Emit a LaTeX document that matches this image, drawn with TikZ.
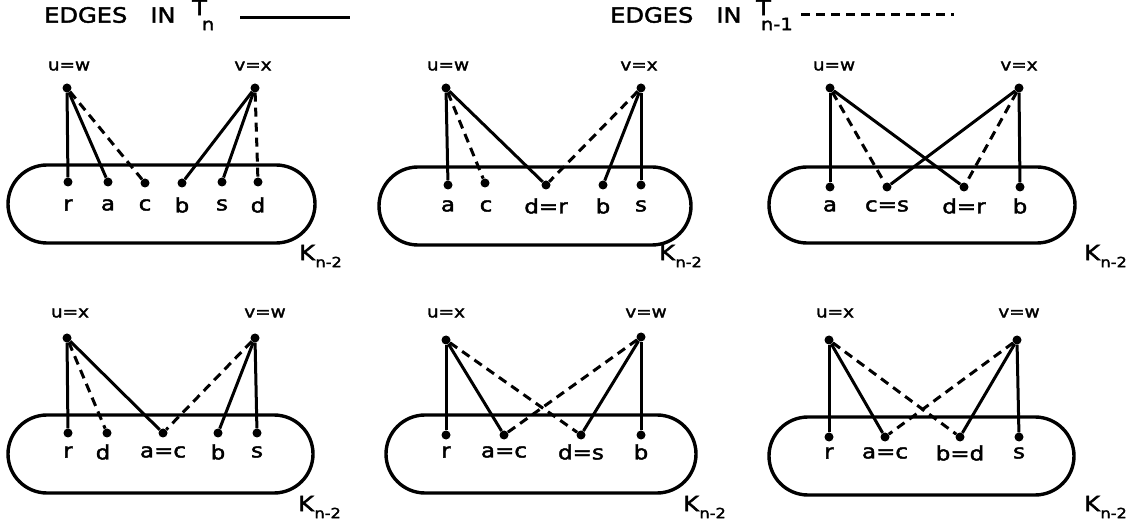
\documentclass[tikz,border=0pt]{standalone}
\usepackage{fontspec}
\usetikzlibrary{shapes.misc}
\newfontfamily\hand[FakeStretch=1.15,FakeBold=2]{DejaVu Sans}
\tikzset{
  dot/.style={circle, fill, inner sep=0pt, minimum size=9pt},
  tn/.style={line width=3pt},
  tm/.style={line width=3pt, dash pattern=on 9pt off 6pt},
  oval/.style={draw, line width=3.4pt, rounded rectangle, inner sep=0pt},
  plab/.style={font=\hand\fontsize{20}{20}\selectfont, inner sep=0pt},
  vlab/.style={font=\hand\fontsize{16}{16}\selectfont, inner sep=0pt},
  hlab/.style={font=\hand\fontsize{21}{21}\selectfont, inner sep=0pt, anchor=west},
  klab/.style={font=\hand\fontsize{21}{21}\selectfont, inner sep=0pt, anchor=west},
}
\newcommand{\Kn}{K\kern0.5pt\raisebox{-7pt}{\fontsize{14}{14}\selectfont n-2}}
\begin{document}
\begin{tikzpicture}[x=1pt,y=-1pt]
\useasboundingbox (0,0) rectangle (1128,529);
% headers
\node[hlab] (h1) at (44,15) {EDGES\ \ \ IN};
\node[hlab] (h1t) at (192,15) {T\kern-5pt\raisebox{-15pt}{\fontsize{17}{17}\selectfont n}};
\coordinate (l1a) at (240,18); \coordinate (l1b) at (350,18);
\draw[tn] (l1a) -- (l1b);
\node[hlab] (h2) at (610,15) {EDGES\ \ \ IN};
\node[hlab] (h2t) at (756,15) {T\kern-10pt\raisebox{-15pt}{\fontsize{17}{17}\selectfont n-1}};
\coordinate (l2a) at (801,15); \coordinate (l2b) at (954,15);
\draw[tm] (l2a) -- (l2b);

% ---------- panel 1 ----------
\node[oval, minimum width=307pt, minimum height=78pt] (o1) at (161.5,204) {};
\node[dot] (u1) at (67,88) {}; \node[vlab] (u1l) at (69,66) {u=w};
\node[dot] (v1) at (255,88) {}; \node[vlab] (v1l) at (253,66) {v=x};
\node[dot] (r1) at (68,182) {};  \node[plab] at (68,205) {r};
\node[dot] (a1) at (108,182) {}; \node[plab] at (108,205) {a};
\node[dot] (c1) at (145,183) {}; \node[plab] at (145,205) {c};
\node[dot] (b1) at (182,183) {}; \node[plab] at (182,205) {b};
\node[dot] (s1) at (222,182) {}; \node[plab] at (222,205) {s};
\node[dot] (d1) at (258,182) {}; \node[plab] at (258,205) {d};
\node[klab] (k1) at (299,256) {\Kn};
\draw[tn] (u1) -- (r1); \draw[tn] (u1) -- (a1); \draw[tm] (u1) -- (c1);
\draw[tn] (v1) -- (b1); \draw[tn] (v1) -- (s1); \draw[tm] (v1) -- (d1);

% ---------- panel 2 ----------
\node[oval, minimum width=312pt, minimum height=78pt] (o2) at (535,206) {};
\node[dot] (u2) at (446,88) {}; \node[vlab] (u2l) at (448,66) {u=w};
\node[dot] (v2) at (641,88) {}; \node[vlab] (v2l) at (639,66) {v=x};
\node[dot] (a2) at (448,185) {}; \node[plab] at (448,206) {a};
\node[dot] (c2) at (485,183) {}; \node[plab] at (486,206) {c};
\node[dot] (d2) at (546,185) {}; \node[plab] at (546,206) {d=r};
\node[dot] (b2) at (603,185) {}; \node[plab] at (603,206) {b};
\node[dot] (s2) at (641,185) {}; \node[plab] at (641,206) {s};
\node[klab] (k2) at (659,256) {\Kn};
\draw[tn] (u2) -- (a2); \draw[tm] (u2) -- (c2); \draw[tn] (u2) -- (d2);
\draw[tm] (v2) -- (d2); \draw[tn] (v2) -- (b2); \draw[tn] (v2) -- (s2);

% ---------- panel 3 ----------
\node[oval, minimum width=306pt, minimum height=76pt] (o3) at (922,205) {};
\node[dot] (u3) at (830,88) {}; \node[vlab] (u3l) at (834,66) {u=w};
\node[dot] (v3) at (1019,88) {}; \node[vlab] (v3l) at (1019,66) {v=x};
\node[dot] (a3) at (830,187) {}; \node[plab] at (830,206) {a};
\node[dot] (c3) at (887,187) {}; \node[plab] at (887,206) {c=s};
\node[dot] (d3) at (964,187) {}; \node[plab] at (964,206) {d=r};
\node[dot] (b3) at (1020,187) {}; \node[plab] at (1020,206) {b};
\node[klab] (k3) at (1084,256) {\Kn};
\draw[tn] (u3) -- (a3); \draw[tm] (u3) -- (c3); \draw[tn] (u3) -- (d3);
\draw[tn] (v3) -- (c3); \draw[tm] (v3) -- (d3); \draw[tn] (v3) -- (b3);

% ---------- panel 4 ----------
\node[oval, minimum width=305pt, minimum height=78pt] (o4) at (160.5,454) {};
\node[dot] (u4) at (67,338) {}; \node[vlab] (u4l) at (70,313) {u=x};
\node[dot] (v4) at (255,338) {}; \node[vlab] (v4l) at (265,313) {v=w};
\node[dot] (r4) at (68,433) {};  \node[plab] at (68,452) {r};
\node[dot] (d4) at (107,433) {}; \node[plab] at (103,452) {d};
\node[dot] (a4) at (163,433) {}; \node[plab] at (163,452) {a=c};
\node[dot] (b4) at (218,433) {}; \node[plab] at (218,452) {b};
\node[dot] (s4) at (257,433) {}; \node[plab] at (257,452) {s};
\node[klab] (k4) at (298,507) {\Kn};
\draw[tn] (u4) -- (r4); \draw[tm] (u4) -- (d4); \draw[tn] (u4) -- (a4);
\draw[tm] (v4) -- (a4); \draw[tn] (v4) -- (b4); \draw[tn] (v4) -- (s4);

% ---------- panel 5 ----------
\node[oval, minimum width=310pt, minimum height=78pt] (o5) at (541,454) {};
\node[dot] (u5) at (446,340) {}; \node[vlab] (u5l) at (446,313) {u=x};
\node[dot] (v5) at (641,337) {}; \node[vlab] (v5l) at (646,313) {v=w};
\node[dot] (r5) at (446,435) {}; \node[plab] at (446,452) {r};
\node[dot] (a5) at (504,435) {}; \node[plab] at (504,452) {a=c};
\node[dot] (d5) at (581,435) {}; \node[plab] at (581,452) {d=s};
\node[dot] (b5) at (641,435) {}; \node[plab] at (641,452) {b};
\node[klab] (k5) at (683,507) {\Kn};
\draw[tn] (u5) -- (r5); \draw[tn] (u5) -- (a5); \draw[tm] (u5) -- (d5);
\draw[tm] (v5) -- (a5); \draw[tn] (v5) -- (d5); \draw[tn] (v5) -- (b5);

% ---------- panel 6 ----------
\node[oval, minimum width=305pt, minimum height=78pt] (o6) at (921.5,456) {};
\node[dot] (u6) at (829,340) {}; \node[vlab] (u6l) at (835,313) {u=x};
\node[dot] (v6) at (1017,340) {}; \node[vlab] (v6l) at (1019,313) {v=w};
\node[dot] (r6) at (829,437) {}; \node[plab] at (829,453) {r};
\node[dot] (a6) at (885,437) {}; \node[plab] at (885,453) {a=c};
\node[dot] (b6) at (960,437) {}; \node[plab] at (960,453) {b=d};
\node[dot] (s6) at (1019,437) {}; \node[plab] at (1019,453) {s};
\node[klab] (k6) at (1084,507) {\Kn};
\draw[tn] (u6) -- (r6); \draw[tn] (u6) -- (a6); \draw[tm] (u6) -- (b6);
\draw[tm] (v6) -- (a6); \draw[tn] (v6) -- (b6); \draw[tn] (v6) -- (s6);
\end{tikzpicture}
\end{document}
